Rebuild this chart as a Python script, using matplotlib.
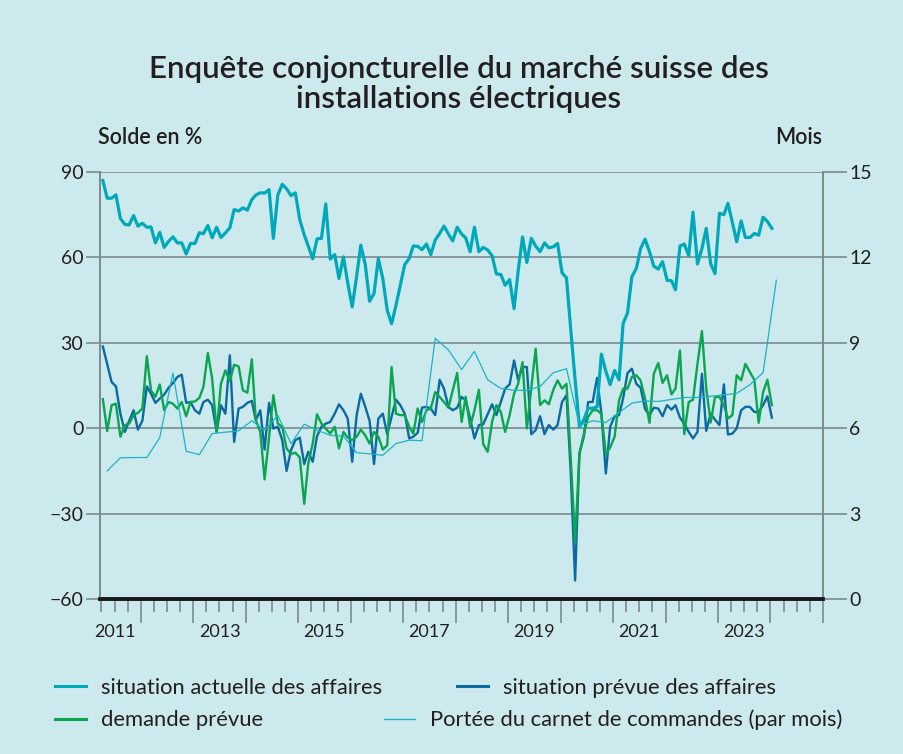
import matplotlib
matplotlib.use('Agg')
import matplotlib.pyplot as plt
import matplotlib.dates as mdates
from matplotlib.ticker import NullFormatter
import pandas as pd

plt.rcParams['font.family'] = ['Lato', 'DejaVu Sans']

# monthly survey balances (%) from April 2011 to January 2024
actuelle = [87, 80.8, 80.8, 82, 73.7, 71.6, 71.4, 74.7, 71, 72, 70.6, 70.7, 65.1, 68.8, 63.5, 65.6,
            67.2, 65.1, 65.1, 61.2, 64.9, 64.9, 68.7, 68.3, 71.2, 66.9, 70.6, 67, 68.6, 70.4, 76.8, 76.3,
            77.4, 76.6, 80.3, 81.9, 82.7, 82.6, 83.8, 66.7, 81.9, 85.7, 84.1, 81.7, 82.7, 73.2, 67.9, 64,
            59.5, 66.5, 66.7, 78.8, 59.4, 61, 52.6, 60.2, 51, 42.6, 53.4, 64.3, 57.5, 44.6, 47.3, 59.6,
            52.6, 41.4, 36.7, 43.2, 50.2, 57.5, 59.6, 64, 63.9, 62.7, 64.7, 61, 66.1, 68.4, 71, 68.2,
            65.8, 70.6, 68.2, 66.9, 62, 70.6, 62, 63.5, 62.6, 60.6, 54.2, 54, 50.2, 52.2, 42, 55,
            67.2, 58.2, 66.7, 64, 62, 65.1, 63.4, 63.7, 64.9, 54.6, 52.8, 35, 17, 0.5, 3, 7,
            7, 7.5, 26, 20, 15.3, 20.3, 17, 36.7, 40.5, 53.2, 56.1, 63.1, 66.4, 62, 56.9, 55.9,
            58.5, 52, 51.8, 48.6, 64, 64.7, 60.6, 75.9, 57.7, 63.1, 70.2, 57.8, 54.3, 75.5, 75, 79,
            72.3, 65.5, 72.8, 67, 67, 68.4, 67.8, 74.1, 72.6, 70.2]

prevue = [28.7, 22.6, 16.2, 14.7, 5.1, -1.3, 2.6, 6.3, -0.5, 2.6, 14.7, 12.1, 8.9, 10.4, 11.8, 14.2,
          15.9, 18, 18.8, 8.9, 9.2, 6.3, 5.1, 9.2, 10, 8.1, -1.3, 8.1, 5.1, 25.6, -4.8, 6.9,
          7.5, 8.9, 9.6, 2.8, 6.3, -7.5, 8.9, -0.1, 0.5, -4.2, -15, -7.7, -4.2, -3.3, -12.6, -8.3,
          -11.8, -2.8, 0.5, 1.6, 2.2, 5.1, 8.4, 6.3, 3.4, -11.8, 4.6, 12.1, 7.5, 2.6, -12.6, 3.4,
          5.1, -2.1, 4, 10, 8.1, 5.1, -3.6, -3, -1.6, 7.2, 7.5, 6.9, 4.6, 17, 13.9, 7.5,
          6.3, 7.2, 11, 9.8, 3.4, -3.6, 1.1, 1.4, 4.9, 8.4, 4.6, 9.2, 13.9, 15.4, 23.8, 17,
          21.5, 21.5, -2.1, -0.7, 4.2, -2.1, 1.1, -0.5, 1.1, 9.2, 11.6, -15, -53.5, -8.9, -3, 9.2,
          9.2, 17.7, 5.1, -15.9, 0.5, 4.2, 4.6, 10.4, 19.4, 20.9, 15.6, 14.2, 6.7, 4.6, 7.2, 6.9,
          4.2, 8.1, 6.5, 8.1, 3.7, 1.6, -1.3, -3.6, -1.3, 19.1, -0.9, 5.1, 3, 1.1, 15.4, -2.2,
          -1.9, -0.1, 6.3, 7.5, 7.5, 5.7, 5.7, 8.1, 11.2, 3.7]

demande = [10.2, -1, 8.1, 8.6, -3, 1.1, 1.6, 4.6, 5.4, 6.9, 25.3, 13.3, 11, 15.4, 6.3, 9.2,
           8.6, 6.9, 9.2, 4.2, 9.2, 9.4, 10.7, 14.5, 26.4, 17.4, -1.3, 15.6, 20.3, 16.5, 22.3, 21.7,
           13.3, 12.5, 24.2, 2.8, -1.3, -18, -3.3, 11.6, 1.6, 0.5, -7.1, -9.1, -8.6, -10.3, -26.6, -12.4,
           -5.4, 4.9, 1.6, -0.1, -1.9, 0.5, -7.1, -1.3, -3.3, -4.2, -3, -0.5, -2.5, -5.4, -1.3, -3,
           -7.5, -6, 21.5, 5.1, 4.6, 4.6, 0.5, -1.9, 6.9, 2.2, 6.3, 6.9, 12.7, 11, 9.2, 7.2,
           13.3, 19.4, 2.2, 11, 0.5, 6.3, 13.5, -5.6, -8.3, 2.2, 8.1, 5.7, -1.3, 4.6, 12.1, 15.6,
           23.2, -0.1, 14, 27.9, 8.1, 9.8, 8.4, 13.5, 16.8, 13.9, 15.6, -10, -39.8, -8.9, -1.9, 4,
           6.3, 6.3, 5, -9.1, -6.8, -3, 9.8, 13.9, 13.9, 18, 18.6, 16.8, 10.4, 1.9, 19.1, 22.9,
           15.9, 18.6, 11.9, 13.9, 27.3, -2.1, 9.2, 10, 22.6, 34.1, 14, 2, 11, 11, 8, 3.4,
           4.6, 18.6, 16.8, 22.6, 19.7, 17, 1.9, 12.7, 17, 8.1]

# quarterly order book range (months), May 2011 to February 2024
portee = [4.50, 4.96, 4.97, 4.97, 5.67, 7.94, 5.19, 5.07, 5.81, 5.86, 5.91, 6.26, 5.93, 6.45,
          5.46, 6.14, 5.93, 5.75, 5.72, 5.14, 5.10, 5.05, 5.46, 5.58, 5.56, 9.16, 8.75, 8.06,
          8.70, 7.70, 7.40, 7.33, 7.33, 7.46, 7.95, 8.09, 6.10, 6.26, 6.20, 6.55, 6.88, 6.96,
          6.94, 7.01, 7.08, 7.08, 7.12, 7.17, 7.22, 7.53, 7.95, 11.2]

labels = ['situation actuelle des affaires', 'situation prévue des affaires',
          'demande prévue', 'Portée du carnet de commandes (par mois)']
year_labels = [2011, 2013, 2015, 2017, 2019, 2021, 2023]

bg = '#cce9ed'
grid_c = '#7c8a8d'
txt_c = '#231f20'
c_act = '#00a9ba'
c_prev = '#0a6aa1'
c_dem = '#0aa54f'
c_port = '#1cb3c6'

dates = pd.date_range('2011-04-01', periods=len(actuelle), freq='MS') + pd.Timedelta(days=10)
pdates = pd.date_range('2011-05-01', periods=len(portee), freq='3MS') + pd.Timedelta(days=10)

fig = plt.figure(figsize=(9.04, 7.54), dpi=100, facecolor=bg)
ax = fig.add_axes([100 / 904, 155 / 754, 723 / 904, 427 / 754])
ax.set_facecolor(bg)

l_prev, = ax.plot(dates, prevue, color=c_prev, lw=1.7, label=labels[1], zorder=3)
l_dem, = ax.plot(dates, demande, color=c_dem, lw=1.7, label=labels[2], zorder=3.5)
l_act, = ax.plot(dates, actuelle, color=c_act, lw=2.3, label=labels[0], zorder=4)

ax.set_ylim(-60, 90)
ax.set_yticks([-60, -30, 0, 30, 60, 90], ['\u221260', '\u221230', '0', '30', '60', '90'])
ax.set_xlim(pd.Timestamp('2011-03-22'), pd.Timestamp('2025-01-01'))
ax.yaxis.grid(True, color=grid_c, lw=1.2)
ax.set_axisbelow(True)

ax.xaxis.set_major_locator(mdates.YearLocator())
ax.xaxis.set_major_formatter(NullFormatter())
ax.xaxis.set_minor_locator(mdates.MonthLocator(bymonth=[4, 7, 10]))
ax.tick_params(axis='x', which='major', length=17, width=1.2, color=grid_c)
ax.tick_params(axis='x', which='minor', length=9, width=1.2, color=grid_c)
ax.tick_params(axis='y', length=10, width=1.2, color=grid_c, labelsize=14, labelcolor=txt_c, pad=2)

for yr in year_labels:
    ax.text(pd.Timestamp(f'{yr}-07-02'), -0.078, str(yr), transform=ax.get_xaxis_transform(),
            ha='center', va='center', fontsize=13, color=txt_c)

ax2 = ax.twinx()
l_port, = ax2.plot(pdates, portee, color=c_port, lw=0.9, label=labels[3], zorder=5)
ax2.set_ylim(0, 15)
ax2.set_yticks(range(0, 16, 3))
ax2.tick_params(axis='y', length=17, width=1.2, color=grid_c, labelsize=14, labelcolor=txt_c, pad=2)

for a in (ax, ax2):
    a.spines['top'].set_visible(False)
    a.spines['left'].set_color(grid_c)
    a.spines['right'].set_color(grid_c)
    a.spines['left'].set_linewidth(1.2)
    a.spines['right'].set_linewidth(1.2)
    a.spines['bottom'].set_color('#1a1a1a')
    a.spines['bottom'].set_linewidth(2.6)
    a.spines['bottom'].set_zorder(6)

fig.text(459 / 904, 1 - 84 / 754, 'Enquête conjoncturelle du marché suisse des\ninstallations électriques',
         ha='center', va='center', fontsize=22.5, fontweight='semibold', color=txt_c, linespacing=1.08)
fig.text(98 / 904, 1 - 138 / 754, 'Solde en %', ha='left', va='center', fontsize=15.5,
         fontweight='semibold', color=txt_c)
fig.text(822 / 904, 1 - 138 / 754, 'Mois', ha='right', va='center', fontsize=15.5,
         fontweight='semibold', color=txt_c)

leg_kw = dict(frameon=False, fontsize=15.8, handlelength=1.4, handletextpad=0.7,
              loc='center left', borderaxespad=0, borderpad=0, labelcolor=txt_c)
leg1 = fig.legend(handles=[l_act, l_prev], ncol=2, columnspacing=3.4,
                  bbox_to_anchor=(55 / 904, 1 - 688 / 754), **leg_kw)
leg2 = fig.legend(handles=[l_dem, l_port], ncol=2, columnspacing=5.5,
                  bbox_to_anchor=(55 / 904, 1 - 720 / 754), **leg_kw)
for leg in (leg1, leg2):
    for h in leg.get_lines():
        h.set_linewidth(2.2 if h.get_label() != labels[3] else 1.0)

fig.savefig('out.png', dpi=100, facecolor=bg)
